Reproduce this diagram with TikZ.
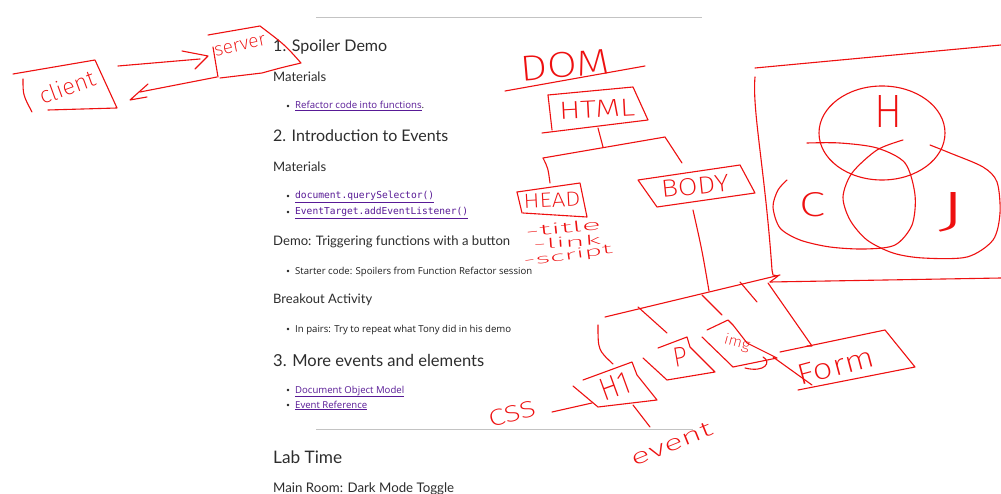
\documentclass[tikz,border=0pt]{standalone}
\usepackage{fontspec}
\usepackage{graphicx}
\setmainfont{Open Sans}
\newfontfamily\headfont{Lato}
\newfontfamily\bodyfont{Open Sans}
\newfontfamily\codefont{DejaVu Sans Mono}
\newfontfamily\handfont{Fira Sans ExtraLight}
\definecolor{inkred}{RGB}{238,16,16}
\definecolor{headgray}{RGB}{45,45,45}
\definecolor{textgray}{RGB}{30,30,30}
\definecolor{linkpurple}{RGB}{88,26,150}
\definecolor{rulegray}{RGB}{195,195,195}
\newcommand{\fitw}[2]{\resizebox{#1pt}{!}{#2}}
\newcommand{\fitwh}[3]{\resizebox{#1pt}{#2pt}{#3}}
\begin{document}
\begin{tikzpicture}[x=1pt,y=-1pt,
 ink/.style={draw=inkred,line width=1.1pt,line cap=round,line join=round},
 hand/.style={text=inkred,inner sep=0pt,font=\handfont},
 head/.style={anchor=base west,inner sep=0pt,text=headgray,font=\headfont},
 body/.style={anchor=base west,inner sep=0pt,text=textgray,font=\bodyfont},
 link/.style={anchor=base west,inner sep=0pt,text=linkpurple,font=\bodyfont},
 code/.style={anchor=base west,inner sep=0pt,text=linkpurple,font=\codefont},
 dot/.style={circle,fill=textgray,inner sep=0pt,minimum size=2.6pt},
 webrule/.style={draw=rulegray,line width=0.9pt},
]
\useasboundingbox[fill=white] (0,0) rectangle (1001,494);

% ---------------- web page ----------------
\draw[webrule] (316,17) -- (702,17);
\node[head] (h1) at (273,52) {\fitw{114}{1. Spoiler Demo}};
\node[head] (m1) at (273,82) {\fitw{53}{Materials}};
\node[dot] (d1) at (288,106) {};
\node[link] (l1) at (295,109) {\fitw{129}{\underline{Refactor code into functions}\textcolor{textgray}{.}}};
\node[head] (h2) at (273,142) {\fitw{175}{2. Introduction to Events}};
\node[head] (m2) at (273,172) {\fitw{53}{Materials}};
\node[dot] (d2) at (288,196) {};
\node[code] (l2) at (295,199) {\fitw{139}{\underline{document.querySelector()}}};
\node[dot] (d3) at (288,212) {};
\node[code] (l3) at (295,215) {\fitw{173}{\underline{EventTarget.addEventListener()}}};
\node[head] (h3) at (273,246) {\fitw{237}{Demo: Triggering functions with a button}};
\node[dot] (d4) at (288,271) {};
\node[body] (t1) at (295,274) {\fitw{237}{Starter code: Spoilers from Function Refactor session}};
\node[head] (h4) at (273,304) {\fitw{99}{Breakout Activity}};
\node[dot] (d5) at (288,329) {};
\node[body] (t2) at (295,332) {\fitw{216}{In pairs: Try to repeat what Tony did in his demo}};
\node[head] (h5) at (273,366) {\fitw{211}{3. More events and elements}};
\node[dot] (d6) at (288,390) {};
\node[link] (l4) at (295,393) {\fitw{109}{\underline{Document Object Model}}};
\node[dot] (d7) at (288,405) {};
\node[link] (l5) at (295,408) {\fitw{72}{\underline{Event Reference}}};
\draw[webrule] (316,429) -- (693,429);
\node[head] (h6) at (273,463) {\fitw{69}{Lab Time}};
\node[head] (h7) at (273,492) {\fitw{181}{Main Room: Dark Mode Toggle}};

% ---------------- client / server ----------------
\draw[ink] (13,74) -- (95,60) -- (117,108) -- (48,110);
\draw[ink] (23,79) .. controls (23,95) .. (32,112);
\node[hand,rotate=20] (client) at (67,87) {\fitwh{58}{17}{client}};
\draw[ink] (208,35) -- (260,26) .. controls (285,45) .. (301,63) .. controls (280,68) .. (262,73) -- (220,78);
\draw[ink] (213,47) -- (218,77);
\node[hand,rotate=12] (server) at (240,46) {\fitwh{52}{10}{server}};
\draw[ink] (118,66) -- (200,59);
\draw[ink] (182,51) -- (208,56) -- (195,69);
\draw[ink] (217,77) -- (140,92);
\draw[ink] (148,84) -- (130,100) -- (147,97);

% ---------------- DOM tree ----------------
\node[hand,rotate=5] (dom) at (565,65) {\fitwh{90}{25}{DOM}};
\draw[ink] (505,91) -- (645,66);
\draw[ink] (548,95) -- (633,87) -- (648,120) -- (542,133);
\draw[ink] (548,95) -- (552,130);
\node[hand,rotate=3] (html) at (597,109) {\fitwh{76}{17}{HTML}};
\coordinate (hb) at (598,128);
\coordinate (jn) at (603,147);
\coordinate (bl) at (543,158);
\coordinate (br) at (665,137);
\draw[ink] (hb) -- (jn);
\draw[ink] (bl) -- (br) -- (682,163);
\draw[ink] (bl) .. controls (548,168) .. (550,183);
\draw[ink] (517,192) -- (580,183) -- (587,217) -- (523,213);
\draw[ink] (517,192) -- (522,213);
\node[hand,rotate=3] (headn) at (552,200) {\fitwh{57}{14}{HEAD}};
\node[hand,rotate=6] (ttl) at (563,228) {\fitwh{76}{11}{-title}};
\node[hand,rotate=4] (lnk) at (567,242) {\fitwh{68}{10}{-link}};
\node[hand,rotate=8] (scr) at (568,256) {\fitwh{90}{10}{-script}};
\draw[ink] (638,180) -- (740,165) -- (755,193) -- (657,207) -- cycle;
\node[hand,rotate=6] (bodyn) at (695,186) {\fitwh{68}{17}{BODY}};
\draw[ink] (693,210) .. controls (702,250) .. (709,291);

% ---------------- right box with circles ----------------
\draw[ink] (755,68) -- (1001,45);
\draw[ink] (755,77) .. controls (752,110) and (765,170) .. (772,270) -- (773,275) -- (778,276) -- (770,282);
\draw[ink] (770,282) -- (1001,278);
\draw[ink] (882,133) ellipse [x radius=63, y radius=47];
\draw[ink] plot[smooth] coordinates {(807,143) (840,143) (877,148) (905,163) (915,195) (912,225) (895,245) (865,249) (830,247) (800,240) (780,228) (773,207) (778,190) (787,180)};
\draw[ink] plot[smooth] coordinates {(903,140) (877,150) (852,173) (843,197) (850,220) (867,240) (893,253) (923,258) (967,257) (993,240) (1000,213) (997,182) (983,167) (950,153) (930,145)};
\node[hand] (hl) at (888,112) {\fitwh{28}{32}{H}};
\node[hand] (cl) at (812,205) {\fitwh{26}{24}{C}};
\node[hand] (jl) at (952,212) {\fitwh{30}{34}{J}};

% ---------------- lower tree ----------------
\coordinate (ba) at (605,317);
\coordinate (bb) at (780,275);
\draw[ink] (ba) -- (bb);
\draw[ink] (598,325) .. controls (598,350) .. (613,364);
\draw[ink] (638,307) -- (667,333);
\draw[ink] (702,295) -- (722,315);
\draw[ink] (740,282) -- (757,302);
\draw[ink] (768,283) -- (812,346) -- (807,346);
% H1
\draw[ink] (573,386) -- (598,407) -- (657,400) -- (637,375) -- (632,362) -- (583,380);
\node[hand,rotate=20] (hone) at (615,386) {\fitwh{30}{22}{H1}};
% P
\draw[ink] (643,358) -- (667,380) -- (715,372) -- (690,347) -- (687,337) -- (658,348);
\node[hand,rotate=10] (pn) at (680,357) {\fitwh{14}{19}{P}};
% img
\draw[ink] (702,337) -- (733,367) -- (777,358) -- (747,343) -- (733,325) -- (728,320) -- (707,330);
\draw[ink] (745,368) .. controls (765,373) and (772,362) .. (763,357);
\node[hand,rotate=-15] (imgn) at (737,343) {\fitwh{26}{11}{img}};
% Form
\draw[ink] (780,352) -- (885,330) -- (915,367) -- (798,390);
\draw[ink] (773,357) -- (812,385);
\node[hand,rotate=15] (formn) at (836,366) {\fitwh{78}{20}{Form}};
% CSS and event
\node[hand,rotate=15] (cssn) at (512,414) {\fitwh{48}{16}{CSS}};
\draw[ink] (552,412) -- (592,403);
\draw[ink] (633,405) -- (650,427);
\node[hand,rotate=22] (eventn) at (672,444) {\fitwh{86}{14}{event}};
\end{tikzpicture}
\end{document}
